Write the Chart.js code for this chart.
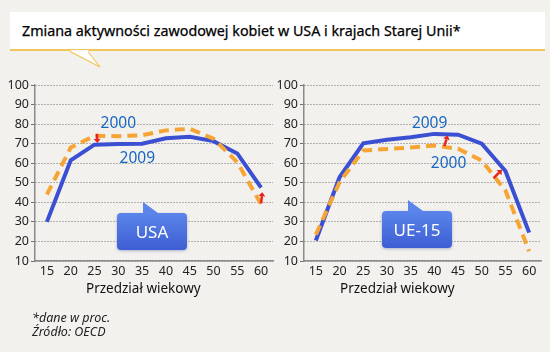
<!DOCTYPE html>
<html>
<head>
<meta charset="utf-8">
<script src="https://cdn.jsdelivr.net/npm/chart.js@4/dist/chart.umd.min.js"></script>
<style>
  body { margin: 0; background: #f3f1ee; font-family: "Noto Sans", sans-serif; }
  #page { position: relative; width: 550px; height: 352px; overflow: hidden; }
  .box { position: absolute; }
  #title {
    left: 10px; top: 12px; width: 535px; height: 39px; background: #fff;
    border-bottom: 2px solid #f2c55a; box-sizing: border-box;
  }
  #title span { position: absolute; left: 12px; top: 9px; font-size: 14.3px; color: #000; -webkit-text-stroke: 0.25px #000; }
  .callout {
    position: absolute; width: 70px; height: 37px; border-radius: 4px;
    background: linear-gradient(#5b85ea, #3d5ed3); color: #fff; font-size: 17px;
    text-align: center; line-height: 37px; box-shadow: 0 1px 3px rgba(40,60,140,0.35);
  }
  .callout i {
    position: absolute; left: 26px; top: -11px; width: 15px; height: 11px;
    background: #5b85ea; clip-path: polygon(0 0, 100% 100%, 0 100%);
  }
  .axt { position: absolute; top: 279px; font-size: 13.5px; color: #111; }
  .note { position: absolute; left: 32px; font-size: 12.5px; font-style: italic; color: #222; }
</style>
</head>
<body>
<div id="page">
  <div id="title" class="box"><span>Zmiana aktywności zawodowej kobiet w USA i krajach Starej Unii*</span></div>
  <svg class="box" style="left:0;top:0" width="120" height="80">
    <polygon points="70,50 100,67 88,50" fill="#fff"/>
    <polyline points="70,51.5 100,67 88,51.5" fill="none" stroke="#f2c55a" stroke-width="1.2"/>
  </svg>
  <div class="box" style="left:0;top:70px;width:280px;height:235px"><canvas id="usa"></canvas></div>
  <div class="box" style="left:270px;top:70px;width:280px;height:235px"><canvas id="ue"></canvas></div>
  <div class="callout" style="left:117px;top:213px"><i></i>USA</div>
  <div class="callout" style="left:382px;top:211px"><i></i>UE-15</div>
  <div class="axt" style="left:86px">Przedział wiekowy</div>
  <div class="axt" style="left:340px">Przedział wiekowy</div>
  <div class="note" style="top:309px">*dane w proc.</div>
  <div class="note" style="top:323px">Źródło: OECD</div>
</div>
<script>
// age groups
const ages = ["15", "20", "25", "30", "35", "40", "45", "50", "55", "60"];
const yTicks = [10, 20, 30, 40, 50, 60, 70, 80, 90, 100];

const usa2009 = [30, 61.5, 69.5, 69.8, 70, 72.8, 73.5, 71.3, 65, 47.5];
const usa2000 = [44, 68, 74, 73.8, 74.3, 76.8, 77.6, 72.6, 60.5, 39];
const ue2009 = [20.5, 52.8, 70.2, 72, 73.3, 75, 74.6, 70, 56, 24.5];
const ue2000 = [23.5, 50.3, 66.5, 67.3, 68, 69, 67.4, 61.3, 46, 15];

// year labels: [category index, value, text]
const usaLabels = [[3.0, 80.4, "2000"], [3.8, 62.4, "2009"]];
const ueLabels = [[4.8, 80.4, "2009"], [5.6, 59.8, "2000"]];

// red arrows: [index from, value from, index to, value to]
const usaArrows = [[2.1, 75, 2.12, 70.4], [9.0, 39.5, 9.05, 45.2]];
const ueArrows = [[5.42, 68.8, 5.56, 74.2], [7.5, 52.4, 7.85, 56.6]];

const BLUE = "#3b4fd2";
const ORANGE = "#f6a535";

const notes = {
  id: "notes",
  afterDatasetsDraw(chart, args, opts) {
    const { ctx, scales: { x, y } } = chart;
    ctx.save();
    ctx.fillStyle = "#1767c4";
    ctx.font = "15.5px 'Noto Sans'";
    ctx.textAlign = "center";
    ctx.textBaseline = "middle";
    opts.labels.forEach(([i, v, t]) => ctx.fillText(t, x.getPixelForValue(i), y.getPixelForValue(v)));
    ctx.strokeStyle = "#e8221b";
    ctx.fillStyle = "#e8221b";
    ctx.lineWidth = 2.5;
    opts.arrows.forEach(([i1, v1, i2, v2]) => {
      const x1 = x.getPixelForValue(i1), y1 = y.getPixelForValue(v1);
      const x2 = x.getPixelForValue(i2), y2 = y.getPixelForValue(v2);
      const a = Math.atan2(y2 - y1, x2 - x1);
      const hx = x2 - 4 * Math.cos(a), hy = y2 - 4 * Math.sin(a);
      ctx.beginPath();
      ctx.moveTo(x1, y1);
      ctx.lineTo(hx, hy);
      ctx.stroke();
      ctx.beginPath();
      ctx.moveTo(x2, y2);
      ctx.lineTo(hx + 3.5 * Math.sin(a), hy - 3.5 * Math.cos(a));
      ctx.lineTo(hx - 3.5 * Math.sin(a), hy + 3.5 * Math.cos(a));
      ctx.closePath();
      ctx.fill();
    });
    ctx.restore();
  }
};

function makeChart(id, v2009, v2000, labels, arrows, padRight, yWidth) {
  return new Chart(document.getElementById(id), {
    type: "line",
    data: {
      labels: ages,
      datasets: [
        { label: "2000", data: v2000, borderColor: ORANGE, borderWidth: 4, borderDash: [10, 6], pointRadius: 0, tension: 0 },
        { label: "2009", data: v2009, borderColor: BLUE, borderWidth: 4, pointRadius: 0, tension: 0 },
      ],
    },
    options: {
      responsive: true,
      maintainAspectRatio: false,
      animation: false,
      layout: { padding: { top: 15, right: padRight, left: 0, bottom: 0 } },
      plugins: {
        legend: { display: false },
        tooltip: { enabled: false },
        notes: { labels, arrows },
      },
      scales: {
        x: {
          offset: true,
          grid: { display: false, drawTicks: false },
          border: { color: "#8a8a8a", width: 1.5 },
          ticks: { color: "#222", font: { family: "Noto Sans", size: 12.5 }, padding: 3 },
          afterFit: (s) => { s.height = 44; },
        },
        y: {
          min: 10,
          max: 100,
          afterBuildTicks: (s) => { s.ticks = yTicks.map((v) => ({ value: v })); },
          grid: { color: "#6f6f6f", tickLength: 4, drawTicks: true },
          border: { color: "#8a8a8a", width: 1.5, dash: [1, 2] },
          ticks: { color: "#222", font: { family: "Noto Sans", size: 12.5 }, padding: 2 },
          afterFit: (s) => { s.width = yWidth; },
        },
      },
    },
    plugins: [notes],
  });
}

makeChart("usa", usa2009, usa2000, usaLabels, usaArrows, 7, 35);
makeChart("ue", ue2009, ue2000, ueLabels, ueArrows, 9, 34);
</script>
</body>
</html>
